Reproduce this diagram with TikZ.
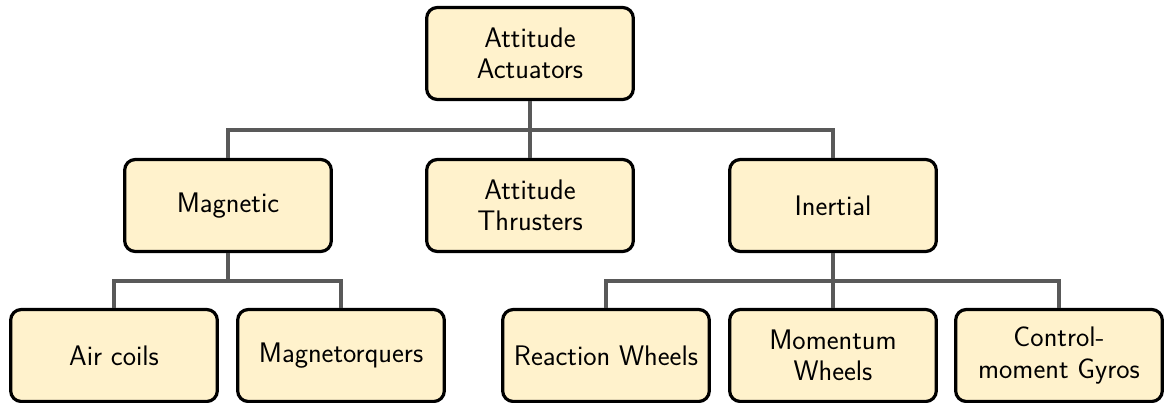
\documentclass[tikz,border=0pt]{standalone}
\usepackage{tikz}
\definecolor{boxfill}{HTML}{FFF2CC}
\definecolor{linegray}{HTML}{595959}
\tikzset{
  box/.style={draw=black, line width=2.4pt, fill=boxfill, rounded corners=8pt,
    minimum width=155pt, minimum height=69pt, align=center, inner sep=0pt,
    font=\sffamily\fontsize{21.2}{23.5}\selectfont},
  conn/.style={draw=linegray, line width=2.4pt}
}
\begin{document}
\begin{tikzpicture}[x=0.75pt,y=-0.75pt]
\useasboundingbox (0,0) rectangle (1165,403);
\node[box] (root) at (530,53.5) {Attitude\\Actuators};
\node[box] (mag) at (228,205.5) {Magnetic};
\node[box] (thr) at (530,205.5) {Attitude\\Thrusters};
\node[box] (ine) at (833,205.5) {Inertial};
\node[box] (air) at (114,355.5) {Air coils};
\node[box] (mtq) at (341,355.5) {Magnetorquers};
\node[box] (rw) at (606,355.5) {Reaction Wheels};
\node[box] (mw) at (833,355.5) {Momentum\\Wheels};
\node[box] (cmg) at (1059,355.5) {Control-\\moment Gyros};
\coordinate (j1) at (530,130);
\coordinate (j2) at (228,281);
\coordinate (j3) at (833,281);
\draw[conn] (root.south) -- (j1);
\draw[conn] (j1) -| (mag.north);
\draw[conn] (j1) -- (thr.north);
\draw[conn] (j1) -| (ine.north);
\draw[conn] (mag.south) -- (j2);
\draw[conn] (j2) -| (air.north);
\draw[conn] (j2) -| (mtq.north);
\draw[conn] (ine.south) -- (j3);
\draw[conn] (j3) -| (rw.north);
\draw[conn] (j3) -- (mw.north);
\draw[conn] (j3) -| (cmg.north);
\end{tikzpicture}
\end{document}
